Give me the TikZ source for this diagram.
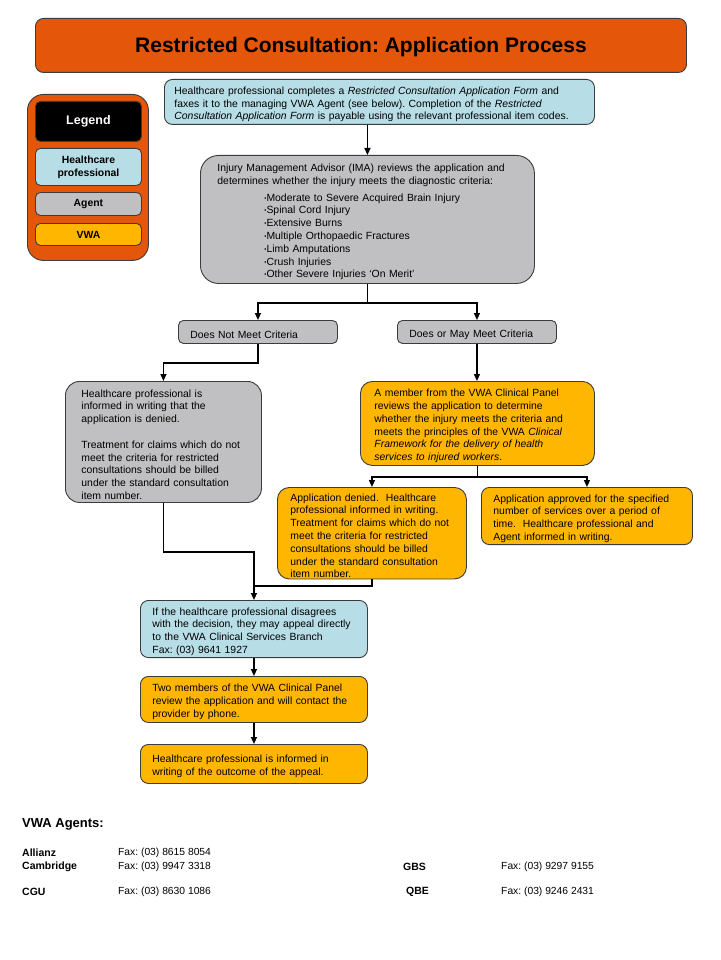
\documentclass[tikz,border=0pt]{standalone}
\usepackage{fontspec}
\setmainfont{Liberation Sans}
\usepackage{xcolor}
\definecolor{TitleOrange}{HTML}{E4560A}
\definecolor{HcpBlue}{HTML}{B7DDE6}
\definecolor{AgentGray}{HTML}{C0BFC1}
\definecolor{VwaGold}{HTML}{FFB600}
\definecolor{FrameDark}{HTML}{3C3C3C}
\usetikzlibrary{arrows.meta, positioning, calc}
\newcommand{\smallbul}{\raisebox{1pt}{\fontsize{6}{6}\selectfont\textbullet}}
\frenchspacing

\begin{document}
\begin{tikzpicture}[
  x=1pt, y=-1pt,
  % Flowchart box, text left aligned
  flowbox/.style={
    draw=FrameDark,
    line width=0.9pt,
    rounded corners=8pt,
    anchor=north west,
    align=left,
    inner ysep=2pt,
    font=\fontsize{10.4}{12.8}\selectfont,
    execute at begin node={\rule{0pt}{12.6pt}}
  },
  % Legend entry
  lgdbox/.style={
    draw=FrameDark,
    line width=0.9pt,
    rounded corners=5pt,
    anchor=north west,
    align=center,
    minimum width=106pt,
    inner sep=0pt,
    font=\fontsize{10.4}{12.8}\selectfont\bfseries
  },
  % Connectors
  arr/.style={line width=1.3pt, -{Triangle[length=7pt,width=6pt]}},
  link/.style={line width=1.3pt},
  % Footer texts
  agentname/.style={
    anchor=west,
    inner sep=0pt,
    font=\fontsize{10.5}{12}\selectfont\bfseries
  },
  agentfax/.style={
    anchor=west,
    inner sep=0pt,
    font=\fontsize{10.3}{12}\selectfont
  }
]

% =============================================================================
% BACKGROUND
% =============================================================================
\fill[white] (0,0) rectangle (720,960);
\useasboundingbox (0,0) rectangle (720,960);

% =============================================================================
% TITLE
% =============================================================================
\node[draw=FrameDark, line width=0.9pt, fill=TitleOrange, rounded corners=8pt,
  anchor=north west, minimum width=651pt, minimum height=54pt,
  text height=15pt, text depth=0pt,
  font=\fontsize{21}{24}\selectfont\bfseries] (title) at (35,18)
  {Restricted Consultation: Application Process};

% =============================================================================
% LEGEND
% =============================================================================
\node[draw=FrameDark, line width=0.9pt, fill=TitleOrange, rounded corners=16pt,
  anchor=north west, minimum width=121pt, minimum height=166pt] (legend) at (27,94) {};

\node[lgdbox, fill=black, text=white, minimum height=40pt,
  font=\fontsize{12.5}{14}\selectfont\bfseries] (lgdhead) at (35,101) {Legend};
\node[lgdbox, fill=HcpBlue, minimum height=37pt] (lgdhcp) at (35,148) {Healthcare\\professional};
\node[lgdbox, fill=AgentGray, minimum height=23pt] (lgdagent) at (35,192) {Agent};
\node[lgdbox, fill=VwaGold, minimum height=22pt] (lgdvwa) at (35,223) {VWA};

% =============================================================================
% APPLICATION
% =============================================================================
% Application form
\node[flowbox, fill=HcpBlue, minimum width=430pt, minimum height=45pt,
  inner xsep=10pt, text width=410pt] (form) at (164,79) {%
  Healthcare professional completes a \textit{Restricted Consultation Application Form} and\\
  faxes it to the managing VWA Agent (see below). Completion of the \textit{Restricted}\\
  \textit{Consultation Application Form} is payable using the relevant professional item codes.};

% IMA review
\node[flowbox, fill=AgentGray, rounded corners=18pt, minimum width=334pt, minimum height=128pt,
  inner xsep=17pt, text width=300pt] (ima) at (200,155) {%
  Injury Management Advisor (IMA) reviews the application and\\
  determines whether the injury meets the diagnostic criteria:\\[4pt]
  \hspace*{47pt}\smallbul Moderate to Severe Acquired Brain Injury\\
  \hspace*{47pt}\smallbul Spinal Cord Injury\\
  \hspace*{47pt}\smallbul Extensive Burns\\
  \hspace*{47pt}\smallbul Multiple Orthopaedic Fractures\\
  \hspace*{47pt}\smallbul Limb Amputations\\
  \hspace*{47pt}\smallbul Crush Injuries\\
  \hspace*{47pt}\smallbul Other Severe Injuries ‘On Merit’};

% Criteria decision
\node[flowbox, fill=AgentGray, rounded corners=5pt, minimum width=159pt, minimum height=23pt,
  inner xsep=12pt, text width=135pt] (notmeet) at (178,320) {Does Not Meet Criteria};
\node[flowbox, fill=AgentGray, rounded corners=5pt, minimum width=159pt, minimum height=23pt,
  inner xsep=12pt, text width=135pt] (maymeet) at (397,320) {Does or May Meet Criteria};

% =============================================================================
% NOT MEETING CRITERIA (left)
% =============================================================================
\node[flowbox, fill=AgentGray, rounded corners=14pt, minimum width=196pt, minimum height=121pt,
  inner xsep=16pt, text width=164pt] (denied1) at (65,381) {%
  Healthcare professional is\\
  informed in writing that the\\
  application is denied.\\[12.8pt]
  Treatment for claims which do not\\
  meet the criteria for restricted\\
  consultations should be billed\\
  under the standard consultation\\
  item number.};

% =============================================================================
% CLINICAL PANEL (right)
% =============================================================================
\node[flowbox, fill=VwaGold, rounded corners=12pt, minimum width=234pt, minimum height=84pt,
  inner xsep=14pt, text width=206pt] (panel) at (360,381) {%
  A member from the VWA Clinical Panel\\
  reviews the application to determine\\
  whether the injury meets the criteria and\\
  meets the principles of the VWA \textit{Clinical}\\
  \textit{Framework for the delivery of health}\\
  \textit{services to injured workers}.};

\node[flowbox, fill=VwaGold, rounded corners=12pt, minimum width=189pt, minimum height=91pt,
  inner xsep=13pt, inner ysep=1pt, text width=163pt, execute at begin node={}] (denied2) at (277,487) {%
  Application denied.\ \ Healthcare\\
  professional informed in writing.\\
  Treatment for claims which do not\\
  meet the criteria for restricted\\
  consultations should be billed\\
  under the standard consultation\\
  item number.};

\node[flowbox, fill=VwaGold, rounded corners=8pt, minimum width=211pt, minimum height=53pt,
  inner xsep=12pt, text width=187pt] (approved) at (481,487) {%
  Application approved for the specified\\
  number of services over a period of\\
  time.\ \ Healthcare professional and\\
  Agent informed in writing.};

% =============================================================================
% APPEAL
% =============================================================================
\node[flowbox, fill=HcpBlue, minimum width=227pt, minimum height=53pt,
  inner xsep=12pt, text width=203pt] (appeal) at (140,600) {%
  If the healthcare professional disagrees\\
  with the decision, they may appeal directly\\
  to the VWA Clinical Services Branch\\
  Fax: (03) 9641 1927};

\node[flowbox, fill=VwaGold, minimum width=227pt, minimum height=46pt,
  inner xsep=12pt, text width=203pt] (review) at (140,676) {%
  Two members of the VWA Clinical Panel\\
  review the application and will contact the\\
  provider by phone.};

\node[flowbox, fill=VwaGold, minimum width=227pt, minimum height=39pt,
  inner xsep=12pt, text width=203pt] (outcome) at (140,744) {%
  Healthcare professional is informed in\\
  writing of the outcome of the appeal.};

% =============================================================================
% CONNECTORS
% =============================================================================
\draw[arr] (form.south -| ima.north) -- (ima.north);
\draw[link] (ima.south) -- ++(0,19) coordinate (imasplit);
\draw[arr] (imasplit) -| (notmeet.north);
\draw[arr] (imasplit) -| (maymeet.north);

\draw[arr] (notmeet.south) -- ++(0,19) -| (denied1.north);
\draw[arr] (maymeet.south) -- (maymeet.south |- panel.north);

\draw[link] (panel.south) -- ++(0,11) coordinate (panelsplit);
\draw[arr] (panelsplit) -| (denied2.north);
\draw[arr] (panelsplit) -| (approved.north);

\draw[arr] (denied1.south) -- ++(0,49) -| (appeal.north);
\draw[link] (denied2.south) |- ([yshift=14pt]appeal.north);

\draw[arr] (appeal.south) -- (review.north);
\draw[arr] (review.south) -- (outcome.north);

% =============================================================================
% VWA AGENTS
% =============================================================================
\node[anchor=west, inner sep=0pt, font=\fontsize{13}{15}\selectfont\bfseries] (agents) at (22,824) {VWA Agents:};

\node[agentname] (allianz) at (22,853) {Allianz};
\node[agentfax] (allianzfax) at (118,853) {Fax: (03) 8615 8054};
\node[agentname] (cambridge) at (22,867) {Cambridge};
\node[agentfax] (cambridgefax) at (118,867) {Fax: (03) 9947 3318};
\node[agentname] (cgu) at (22,892) {CGU};
\node[agentfax] (cgufax) at (118,892) {Fax: (03) 8630 1086};

\node[agentname] (gbs) at (403,867) {GBS};
\node[agentfax] (gbsfax) at (501,867) {Fax: (03) 9297 9155};
\node[agentname] (qbe) at (406,892) {QBE};
\node[agentfax] (qbefax) at (501,892) {Fax: (03) 9246 2431};

\end{tikzpicture}
\end{document}
